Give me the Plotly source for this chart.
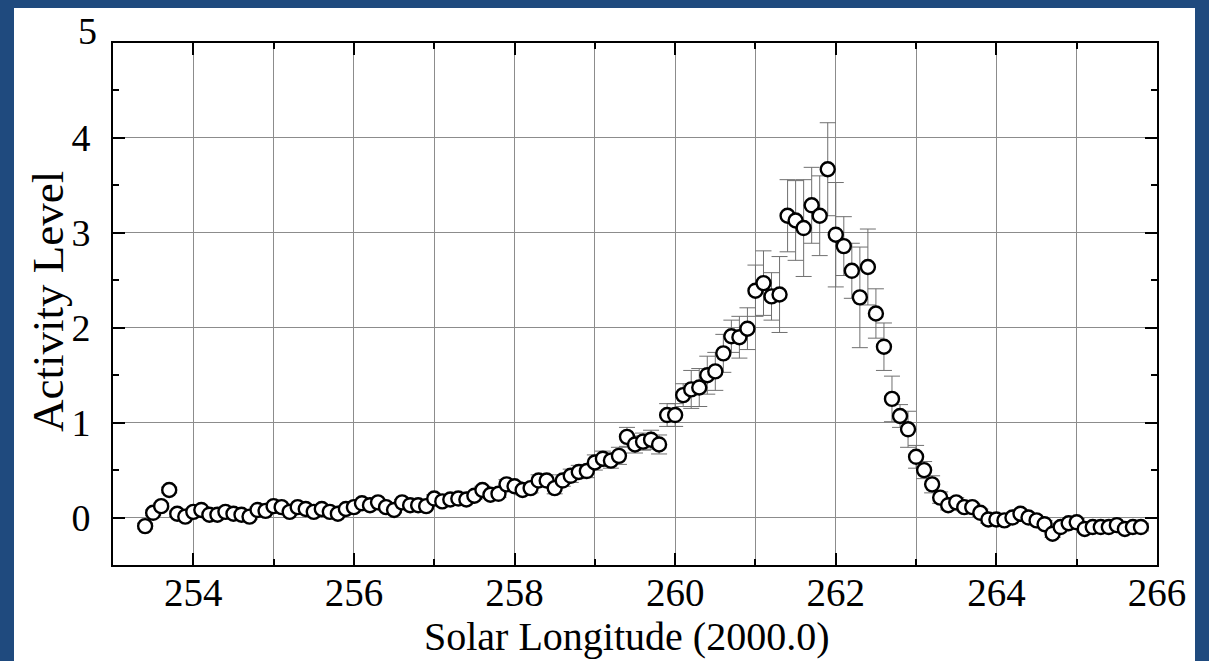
import plotly.graph_objects as go

# Solar longitude (deg, J2000.0)
solar_longitude = [round(253.4 + 0.1 * i, 1) for i in range(125)]

# Activity level
activity = [
    -0.09, 0.05, 0.12, 0.29, 0.04, 0.01, 0.06, 0.08, 0.03, 0.03,   # 253.4-254.3
    0.06, 0.04, 0.03, 0.01, 0.08, 0.07, 0.12, 0.11, 0.06, 0.11,    # 254.4-255.3
    0.09, 0.06, 0.09, 0.06, 0.04, 0.09, 0.11, 0.15, 0.13, 0.16,    # 255.4-256.3
    0.11, 0.08, 0.16, 0.13, 0.13, 0.12, 0.20, 0.17, 0.19, 0.20,    # 256.4-257.3
    0.19, 0.23, 0.29, 0.24, 0.25, 0.35, 0.33, 0.29, 0.31, 0.39,    # 257.4-258.3
    0.39, 0.31, 0.39, 0.44, 0.48, 0.49, 0.58, 0.62, 0.60, 0.65,    # 258.4-259.3
    0.85, 0.77, 0.80, 0.82, 0.77, 1.08, 1.08, 1.29, 1.35, 1.37,    # 259.4-260.3
    1.50, 1.54, 1.73, 1.91, 1.90, 1.99, 2.39, 2.47, 2.33, 2.35,    # 260.4-261.3
    3.18, 3.13, 3.05, 3.29, 3.18, 3.67, 2.98, 2.86, 2.60, 2.32,    # 261.4-262.3
    2.64, 2.15, 1.80, 1.25, 1.07, 0.93, 0.64, 0.50, 0.35, 0.21,    # 262.4-263.3
    0.13, 0.16, 0.11, 0.11, 0.05, -0.02, -0.02, -0.03, 0.00, 0.04, # 263.4-264.3
    0.00, -0.03, -0.07, -0.17, -0.10, -0.06, -0.05, -0.12, -0.10, -0.10,  # 264.4-265.3
    -0.10, -0.08, -0.12, -0.10, -0.10,                              # 265.4-265.8
]

# Symmetric error estimates
errors = [
    0.03, 0.03, 0.03, 0.03, 0.03, 0.03, 0.03, 0.03, 0.03, 0.03,
    0.03, 0.03, 0.03, 0.03, 0.03, 0.03, 0.03, 0.03, 0.03, 0.03,
    0.03, 0.03, 0.03, 0.03, 0.03, 0.03, 0.03, 0.03, 0.03, 0.03,
    0.03, 0.03, 0.03, 0.03, 0.03, 0.03, 0.04, 0.04, 0.04, 0.04,
    0.04, 0.04, 0.04, 0.04, 0.04, 0.05, 0.05, 0.05, 0.05, 0.06,
    0.06, 0.06, 0.06, 0.07, 0.07, 0.07, 0.08, 0.08, 0.08, 0.09,
    0.10, 0.09, 0.09, 0.10, 0.10, 0.12, 0.12, 0.12, 0.20, 0.20,
    0.20, 0.20, 0.20, 0.17, 0.22, 0.22, 0.27, 0.34, 0.25, 0.40,
    0.38, 0.42, 0.51, 0.40, 0.42, 0.49, 0.55, 0.31, 0.29, 0.53,
    0.40, 0.26, 0.25, 0.24, 0.12, 0.19, 0.12, 0.09, 0.09, 0.06,
    0.05, 0.05, 0.04, 0.04, 0.04, 0.04, 0.04, 0.04, 0.04, 0.04,
    0.04, 0.04, 0.04, 0.04, 0.04, 0.04, 0.04, 0.04, 0.04, 0.04,
    0.04, 0.04, 0.04, 0.04, 0.04,
]

x_tick_vals = [254, 256, 258, 260, 262, 264, 266]
y_tick_vals = [0, 1, 2, 3, 4]
y_top_label = "5"
x_title = "Solar Longitude (2000.0)"
y_title = "Activity Level"

BLUE = "#1f4a7e"
FONT = "Liberation Serif, Times New Roman, serif"

# plot-area geometry in pixels
L, R, T, B = 113, 1157, 43, 565
W, H = R - L, B - T


def px_x(p):
    return (p - L) / W


def px_y(p):
    return (B - p) / H


fig = go.Figure()
fig.add_trace(go.Scatter(
    x=solar_longitude, y=activity, mode="markers",
    error_y=dict(type="data", array=errors, visible=True,
                 color="#707070", thickness=1, width=8),
    marker=dict(symbol="circle", size=14, color="white",
                line=dict(color="black", width=2.4)),
    showlegend=False,
))

fig.add_shape(type="rect", xref="paper", yref="paper",
              x0=px_x(14), x1=px_x(1195), y0=px_y(670), y1=px_y(8),
              fillcolor="white", line=dict(width=0), layer="below")

fig.update_layout(
    width=1209, height=661,
    margin=dict(l=L, r=1209 - R, t=T, b=661 - B),
    paper_bgcolor=BLUE, plot_bgcolor="white",
    font=dict(family=FONT, color="black"),
    annotations=[
        dict(text=y_top_label, xref="paper", yref="paper",
             x=px_x(99), y=px_y(31), xanchor="right", yanchor="middle",
             showarrow=False, font=dict(family=FONT, size=38, color="black")),
        dict(text=x_title, xref="paper", yref="paper",
             x=px_x(627), y=px_y(612), xanchor="center", yanchor="top",
             showarrow=False, font=dict(family=FONT, size=40, color="black")),
        dict(text=y_title, xref="paper", yref="paper", textangle=-90,
             x=px_x(48), y=px_y(302), xanchor="center", yanchor="middle",
             showarrow=False, font=dict(family=FONT, size=45, color="black")),
    ],
)

fig.update_xaxes(
    range=[253, 266], tickvals=x_tick_vals,
    ticks="inside", ticklen=12, tickwidth=1.5, tickcolor="black",
    showline=True, linecolor="black", linewidth=2, mirror="allticks",
    showgrid=True, gridcolor="#8c8c8c", gridwidth=1, zeroline=False,
    minor=dict(dtick=1, tick0=253, ticks="inside", ticklen=6, tickcolor="black",
               showgrid=True, gridcolor="#8c8c8c", gridwidth=1),
    tickfont=dict(family=FONT, size=39), ticklabelstandoff=-8,
)
fig.update_yaxes(
    range=[-0.5, 5], tickvals=y_tick_vals,
    ticks="inside", ticklen=12, tickwidth=1.5, tickcolor="black",
    showline=True, linecolor="black", linewidth=2, mirror="allticks",
    showgrid=True, gridcolor="#8c8c8c", gridwidth=1, zeroline=False,
    minor=dict(dtick=0.5, tick0=0, ticks="inside", ticklen=6, tickcolor="black",
               showgrid=False),
    tickfont=dict(family=FONT, size=38), ticklabelstandoff=13,
)

fig.write_html("out.html")
